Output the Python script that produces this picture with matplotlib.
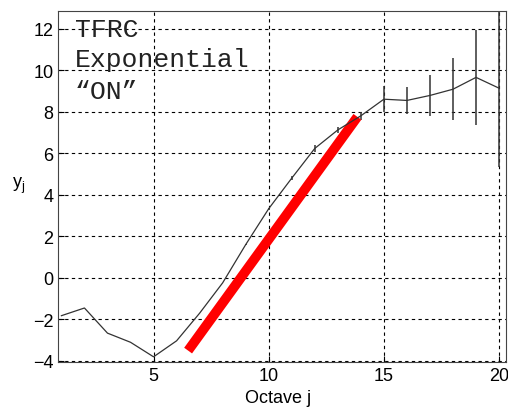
import matplotlib
matplotlib.use('Agg')
import matplotlib.pyplot as plt

# octave data
octave = [1, 2, 3, 4, 5, 6, 7, 8, 9, 10, 11, 12, 13, 14, 15, 16, 17, 18, 19, 20]
yj = [-1.82, -1.45, -2.66, -3.1, -3.8, -3.03, -1.7, -0.24, 1.6, 3.33,
      4.8, 6.23, 7.12, 7.8, 8.6, 8.54, 8.78, 9.08, 9.65, 9.13]
yerr = [0, 0, 0, 0, 0, 0, 0, 0, 0.04, 0.05,
        0.08, 0.15, 0.15, 0.2, 0.63, 0.63, 0.98, 1.5, 2.28, 3.8]

# fitted line
fit_x = [6.5, 13.85]
fit_y = [-3.5, 7.75]

plt.rcParams['font.family'] = ['Liberation Sans', 'DejaVu Sans']

fig = plt.figure(figsize=(5.08, 4.10), dpi=100)
ax = fig.add_axes([0.115, 0.1146, 0.881, 0.8564])

ax.errorbar(octave, yj, yerr=yerr, color='#333333', lw=0.9, elinewidth=1.1, capsize=0)
ax.plot(fit_x, fit_y, color='red', lw=7, solid_capstyle='butt')

ax.set_xlim(0.87, 20.3)
ax.set_ylim(-4.05, 12.85)
ax.set_xticks([5, 10, 15, 20])
ax.set_yticks([-4, -2, 0, 2, 4, 6, 8, 10, 12])
ax.tick_params(direction='in', labelsize=13, length=4)
ax.grid(True, color='k', linestyle=(0, (3, 3)), lw=0.8)

ax.set_xlabel('Octave j', fontsize=13)
ax.xaxis.set_label_coords(0.49, -0.078)
ax.set_ylabel('$\\mathregular{y_j}$', fontsize=13, rotation=0)
ax.yaxis.set_label_coords(-0.09, 0.475)

for s in ax.spines.values():
    s.set_color('#444444')

txt = dict(transform=ax.transAxes, family='Liberation Mono', fontsize=19,
           va='center', color='#222222')
ax.text(0.036, 0.949, 'TFRC', **txt)
ax.text(0.036, 0.863, 'Exponential', **txt)
ax.text(0.036, 0.772, '\u201cON\u201d', **txt)

plt.savefig('out.png', dpi=100)
